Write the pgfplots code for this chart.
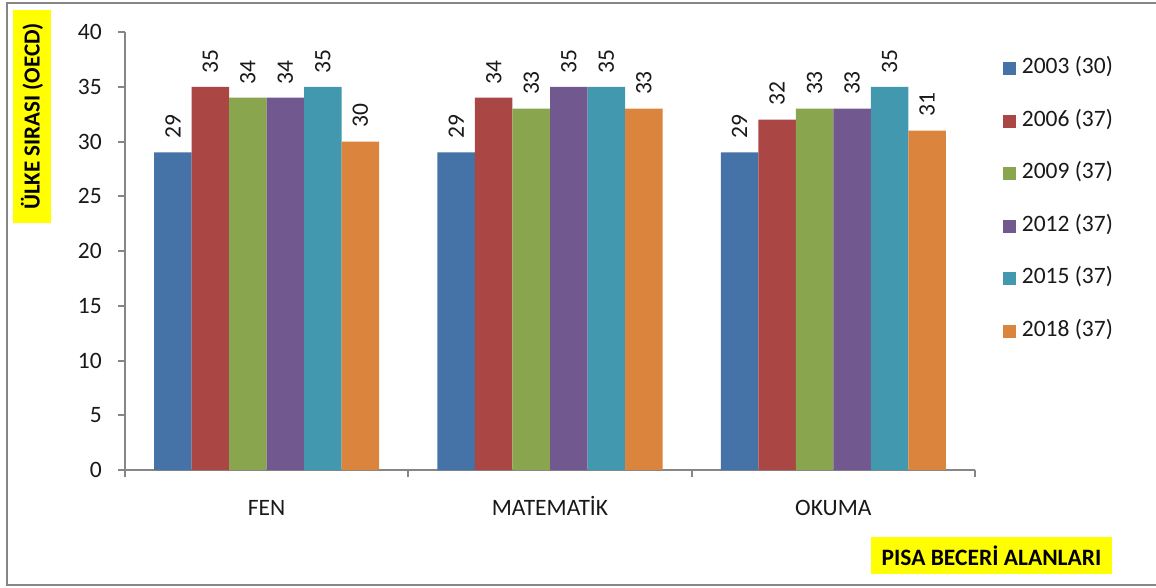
\documentclass[border=0pt]{standalone}
\usepackage{pgfplots}
\pgfplotsset{compat=1.18}
\usepackage{fontspec}
\setmainfont{Carlito}
\definecolor{c1}{HTML}{4572A7}
\definecolor{c2}{HTML}{AA4643}
\definecolor{c3}{HTML}{89A54E}
\definecolor{c4}{HTML}{71588F}
\definecolor{c5}{HTML}{4198AF}
\definecolor{c6}{HTML}{DB843D}
\definecolor{axgray}{HTML}{868686}
\definecolor{hl}{HTML}{FFFF00}
\pgfplotsset{ybar legend/.style={legend image code/.code={\fill[##1] (0pt,-6.5pt) rectangle (13pt,6.5pt);}}}
\begin{document}
\begin{tikzpicture}
\path[use as bounding box] (0pt,0pt) rectangle (1156pt,587pt);
\draw[axgray, line width=2pt] (7pt,2pt) rectangle (1170pt,584pt);
\begin{axis}[
  at={(125pt,117pt)}, anchor=south west,
  scale only axis, width=850pt, height=438pt,
  xmin=-0.5, xmax=2.5, ymin=0, ymax=40,
  ybar=0pt, bar width=0.1324,
  axis x line=bottom, axis y line=left,
  axis line style={-, axgray, line width=2pt},
  xtick={0,1,2}, xticklabels={FEN,MATEMATİK,OKUMA},
  minor xtick={-0.5,0.5,1.5,2.5},
  ytick={0,5,...,40},
  tick align=outside,
  major tick length=7pt, minor tick length=7pt,
  tick style={axgray, line width=2pt},
  major x tick style={draw=none},
  /pgf/number format/assume math mode=true,
  tick label style={font=\fontsize{23.5}{28}\selectfont, text=black!90},
  yticklabel style={inner sep=0pt, xshift=-16pt},
  xticklabel style={inner sep=0pt, anchor=north, text height=16.4pt, text depth=4pt, yshift=-22pt},
  nodes near coords,
  every node near coord/.append style={rotate=90, anchor=west, inner xsep=13.5pt, inner ysep=0pt, font=\fontsize{23.5}{28}\selectfont, text=black!90},
  legend style={at={(1.029,0.946)}, anchor=north west, draw=none, fill=none,
     font=\fontsize{23.5}{28}\selectfont, text=black!90, row sep=30.5pt,
     nodes={inner sep=0pt, inner xsep=0pt, text height=16pt, text depth=6pt},
     /tikz/every odd column/.append style={column sep=6pt}},
  legend cell align=left,
]
\addplot[fill=c1, draw=none] coordinates {(0,29) (1,29) (2,29)};
\addplot[fill=c2, draw=none] coordinates {(0,35) (1,34) (2,32)};
\addplot[fill=c3, draw=none] coordinates {(0,34) (1,33) (2,33)};
\addplot[fill=c4, draw=none] coordinates {(0,34) (1,35) (2,33)};
\addplot[fill=c5, draw=none] coordinates {(0,35) (1,35) (2,35)};
\addplot[fill=c6, draw=none] coordinates {(0,30) (1,33) (2,31)};
\legend{2003 (30),2006 (37),2009 (37),2012 (37),2015 (37),2018 (37)}
\end{axis}
\node[fill=hl, rotate=90, inner xsep=3pt, inner ysep=3pt, font=\bfseries\fontsize{23}{27}\selectfont, minimum width=213pt, minimum height=38pt] at (32pt,470.5pt) {ÜLKE SIRASI (OECD)};
\node[fill=hl, inner xsep=3pt, inner ysep=3pt, font=\bfseries\fontsize{23.5}{28}\selectfont, minimum width=241pt, minimum height=37pt] at (991.5pt,31.5pt) {PISA BECERİ ALANLARI};
\end{tikzpicture}
\end{document}
